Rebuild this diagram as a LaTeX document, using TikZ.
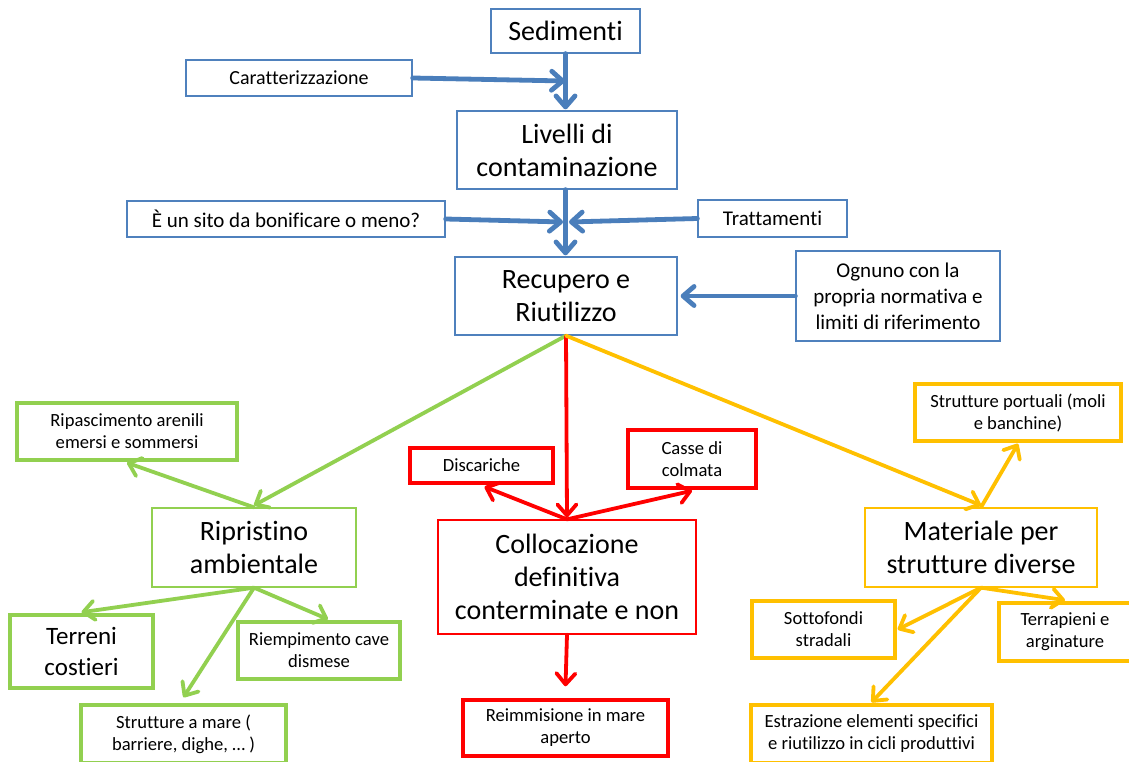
\documentclass[tikz,border=0pt]{standalone}
\usepackage{fontspec}
\setmainfont[RawFeature={-liga}]{Carlito}
\usetikzlibrary{arrows.meta}
\definecolor{bl}{HTML}{4F81BD}
\definecolor{bla}{HTML}{4A7EBB}
\definecolor{gr}{HTML}{92D050}
\definecolor{rd}{HTML}{FF0000}
\definecolor{og}{HTML}{FFC000}
\begin{document}
\begin{tikzpicture}[x=1pt,y=-1pt,
  box/.style={draw, rectangle, align=center, inner sep=0pt, text=black},
  thinb/.style={box, line width=1.3pt},
  thickb/.style={box, line width=3.5pt},
  fL/.style={font=\fontsize{28}{33}\selectfont},
  fM/.style={font=\fontsize{21}{26}\selectfont},
  fS/.style={font=\fontsize{18.6}{22}\selectfont},
  con/.style={line width=3.8pt, line cap=round, -{Straight Barb[length=11pt,width=19pt,round]}},
  bcon/.style={con, bla, line width=4.8pt}]
\useasboundingbox (0,0) rectangle (1129,762);
\fill[white] (0,0) rectangle (1129,762);
% blue nodes
\node[thinb, draw=bl, font=\fontsize{28}{33}\selectfont, minimum width=149pt, minimum height=44pt] (sed) at (565.5,31) {Sedimenti};
\node[thinb, draw=bl, font=\fontsize{20}{24}\selectfont, minimum width=226pt, minimum height=36pt] (car) at (299,78) {Caratterizzazione};
\node[thinb, draw=bl, fL, minimum width=220pt, minimum height=78pt] (liv) at (567,150) {Livelli di\\contaminazione};
\node[thinb, draw=bl, fM, minimum width=318pt, minimum height=36pt] (sito) at (286,219) {È un sito da bonificare o meno?};
\node[thinb, draw=bl, fM, minimum width=149pt, minimum height=37pt] (trat) at (772.5,218.5) {Trattamenti};
\node[thinb, draw=bl, fL, minimum width=222pt, minimum height=78pt] (rec) at (566,296) {Recupero e\\Riutilizzo};
\node[thinb, draw=bl, fM, minimum width=204pt, minimum height=90pt] (ogn) at (898,296) {Ognuno con la\\propria normativa e\\limiti di riferimento};
% second level
\node[thinb, draw=gr, fL, minimum width=204pt, minimum height=79pt] (ripr) at (254,547.5) {Ripristino\\ambientale};
\node[thinb, draw=rd, fL, minimum width=258pt, minimum height=114pt] (col) at (567,577) {Collocazione\\definitiva\\conterminate e non};
\node[thinb, draw=og, fL, minimum width=232pt, minimum height=79pt] (mat) at (981,547.5) {Materiale per\\strutture diverse};
% green leaves
\node[thickb, draw=gr, fS, minimum width=220pt, minimum height=57pt] (rip) at (127,431.5) {Ripascimento arenili\\emersi e sommersi};
\node[thickb, draw=gr, font=\fontsize{25}{31}\selectfont, minimum width=143pt, minimum height=73pt] (ter) at (81.5,651.5) {Terreni\\costieri};
\node[thickb, draw=gr, fS, minimum width=162pt, minimum height=57pt] (rie) at (319,650.5) {Riempimento cave\\dismese};
\node[thickb, draw=gr, fS, minimum width=205pt, minimum height=58pt] (sam) at (183.5,734) {Strutture a mare (\\barriere, dighe, \dots\ )};
% red leaves
\node[thickb, draw=rd, fS, minimum width=143pt, minimum height=35pt] (dis) at (481.5,465.5) {Discariche};
\node[thickb, draw=rd, fS, minimum width=128pt, minimum height=58pt] (cas) at (692,459) {Casse di\\colmata};
\node[thickb, draw=rd, fS, minimum width=205pt, minimum height=56pt] (rei) at (565.5,728) {Reimmisione in mare\\aperto};
% orange leaves
\node[thickb, draw=og, fS, minimum width=206pt, minimum height=57pt] (por) at (1018,412.5) {Strutture portuali (moli\\e banchine)};
\node[thickb, draw=og, fS, minimum width=143pt, minimum height=57pt] (sot) at (823.5,629.5) {Sottofondi\\stradali};
\node[thickb, draw=og, fS, minimum width=132pt, minimum height=58pt] (tpi) at (1065,632) {Terrapieni e\\arginature};
\node[thickb, draw=og, fS, minimum width=241pt, minimum height=58pt] (est) at (871.5,734) {Estrazione elementi specifici\\e riutilizzo in cicli produttivi};
% blue connectors
\coordinate (j1) at (565,81);
\coordinate (j2l) at (563,222);
\coordinate (j2r) at (569,222);
\draw[bcon] (sed.south) -- ([yshift=1pt]liv.north -| sed.south);
\draw[bcon] (car.east) -- (j1);
\draw[bcon] (liv.south -| sed.south) -- ([yshift=1pt]rec.north -| sed.south);
\draw[bcon] (sito.east) -- (j2l);
\draw[bcon] (trat.west) -- (j2r);
\draw[bcon] (ogn.west) -- ([xshift=3pt]rec.east);
% main branches
\draw[con, gr] (rec.south) -- ([yshift=2pt]ripr.north);
\draw[con, rd] (rec.south) -- ([yshift=2pt]col.north);
\draw[con, og] (rec.south) -- ([yshift=2pt]mat.north);
% green
\draw[con, gr] (ripr.north) -- ([yshift=-1pt]rip.south);
\draw[con, gr] (ripr.south) -- ([yshift=1pt]ter.north);
\draw[con, gr] (ripr.south) -- ([xshift=9pt,yshift=1pt]rie.north);
\draw[con, gr] (ripr.south) -- ([yshift=6pt]sam.north);
% red
\draw[con, rd] (col.north) -- ([xshift=3pt,yshift=-2pt]dis.south);
\draw[con, rd] (col.north) -- ([yshift=-1pt]cas.south);
\draw[con, rd] (col.south) -- ([yshift=12pt]rei.north);
% orange
\draw[con, og] (mat.north) -- ([yshift=-1pt]por.south);
\draw[con, og] (mat.south) -- ([xshift=1pt]sot.east);
\draw[con, og] (mat.south) -- ([yshift=1pt]tpi.north);
\draw[con, og] (mat.south) -- ([yshift=1pt]est.north);
\end{tikzpicture}
\end{document}
